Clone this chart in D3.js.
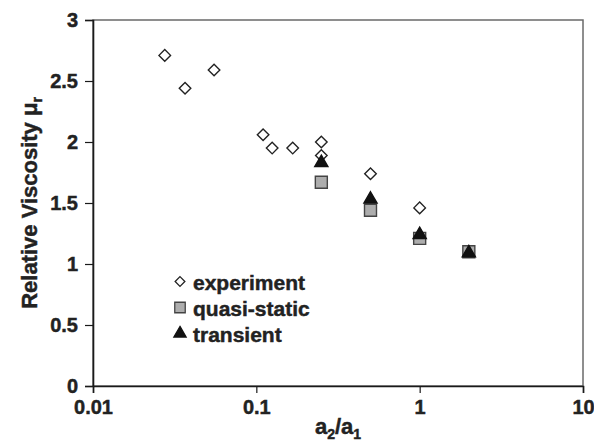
<!DOCTYPE html>
<html>
<head>
<meta charset="utf-8">
<script src="https://cdn.jsdelivr.net/npm/d3@7"></script>
<style>
  body { margin: 0; background: #fff; }
  text { font-family: "Liberation Sans", Arial, sans-serif; font-weight: bold; fill: #222; stroke: #222; stroke-width: 0.45px; }
</style>
</head>
<body>
<div id="chart"></div>
<script>
var experimentX = [0.0275, 0.0366, 0.0551, 0.110, 0.125, 0.167, 0.25, 0.25, 0.5, 1];
var experimentY = [2.71, 2.44, 2.59, 2.06, 1.95, 1.95, 2.0, 1.89, 1.74, 1.46];
var quasiX = [0.25, 0.5, 1, 2];
var quasiY = [1.67, 1.44, 1.21, 1.10];
var transientX = [0.25, 0.5, 1, 2];
var transientY = [1.83, 1.53, 1.24, 1.09];
var xTicks = [0.01, 0.1, 1, 10];
var yTicks = [0, 0.5, 1, 1.5, 2, 2.5, 3];
var legendLabels = ["experiment", "quasi-static", "transient"];

var width = 594, height = 441;
var margin = {top: 20, right: 11, bottom: 55, left: 93};

var svg = d3.select("#chart").append("svg")
    .attr("width", width)
    .attr("height", height);

var x = d3.scaleLog().domain([0.01, 10]).range([margin.left, width - margin.right]);
var y = d3.scaleLinear().domain([0, 3]).range([height - margin.bottom, margin.top]);

// frame (top and right edges are lighter)
svg.append("rect")
    .attr("x", x(0.01)).attr("y", y(3))
    .attr("width", x(10) - x(0.01)).attr("height", y(0) - y(3))
    .attr("fill", "none").attr("stroke", "#6a6a6a").attr("stroke-width", 1.5);

var xAxis = svg.append("g")
    .attr("transform", "translate(0," + y(0) + ")")
    .call(d3.axisBottom(x).tickValues(xTicks).tickSize(7).tickPadding(5)
      .tickFormat(function(d) { return d3.format("~g")(d); }));
xAxis.select(".domain").attr("stroke", "#1a1a1a").attr("stroke-width", 1.6);
xAxis.selectAll(".tick line").attr("stroke", "#1a1a1a").attr("stroke-width", 1.2);
xAxis.selectAll("text").attr("font-size", 20).attr("dy", "0.78em").style("fill", "#222");

var yAxis = svg.append("g")
    .attr("transform", "translate(" + x(0.01) + ",0)")
    .call(d3.axisLeft(y).tickValues(yTicks).tickSize(8).tickPadding(7)
      .tickFormat(function(d) { return d3.format("~g")(d); }));
yAxis.select(".domain").attr("stroke", "#1a1a1a").attr("stroke-width", 1.6);
yAxis.selectAll(".tick line").attr("stroke", "#1a1a1a").attr("stroke-width", 1.2);
yAxis.selectAll("text").attr("font-size", 20).style("fill", "#222");

// axis titles
var xt = svg.append("text")
    .attr("x", (x(0.01) + x(10)) / 2)
    .attr("y", 434)
    .attr("text-anchor", "middle")
    .attr("font-size", 22);
xt.append("tspan").text("a");
xt.append("tspan").attr("font-size", 14).attr("dy", 5).text("2");
xt.append("tspan").attr("dy", -5).text("/a");
xt.append("tspan").attr("font-size", 14).attr("dy", 5).text("1");

var yt = svg.append("text")
    .attr("transform", "translate(37," + ((y(0) + y(3)) / 2) + ") rotate(-90)")
    .attr("text-anchor", "middle")
    .attr("font-size", 22);
yt.append("tspan").text("Relative Viscosity \u03bc");
yt.append("tspan").attr("font-size", 14).attr("dy", 5).text("r");

var diamond = d3.symbol().type(d3.symbolDiamond2).size(85);
var square = d3.symbol().type(d3.symbolSquare).size(144);
var triangle = d3.symbol().type(d3.symbolTriangle).size(75);

function plot(xs, ys, sym, fill, stroke) {
  svg.append("g").selectAll("path")
    .data(xs.map(function(v, i) { return [v, ys[i]]; }))
    .enter().append("path")
      .attr("transform", function(d) { return "translate(" + x(d[0]) + "," + y(d[1]) + ")"; })
      .attr("d", sym)
      .attr("fill", fill)
      .attr("stroke", stroke)
      .attr("stroke-width", 1.4);
}

plot(experimentX, experimentY, diamond, "#fff", "#222");
plot(quasiX, quasiY, square, "#adadad", "#444");
plot(transientX, transientY, triangle, "#111", "#111");

// legend
var legendSyms = [
  {sym: d3.symbol().type(d3.symbolDiamond2).size(60), fill: "#fff", stroke: "#222"},
  {sym: d3.symbol().type(d3.symbolSquare).size(110), fill: "#adadad", stroke: "#444"},
  {sym: d3.symbol().type(d3.symbolTriangle).size(65), fill: "#111", stroke: "#111"}
];
var legend = svg.append("g");
legendLabels.forEach(function(label, i) {
  var base = 289.5 + i * 26;
  legend.append("path")
    .attr("transform", "translate(180," + (base - 8) + ")")
    .attr("d", legendSyms[i].sym)
    .attr("fill", legendSyms[i].fill)
    .attr("stroke", legendSyms[i].stroke)
    .attr("stroke-width", 1.3);
  legend.append("text")
    .attr("x", 193)
    .attr("y", base)
    .attr("font-size", 21)
    .text(label);
});
</script>
</body>
</html>
